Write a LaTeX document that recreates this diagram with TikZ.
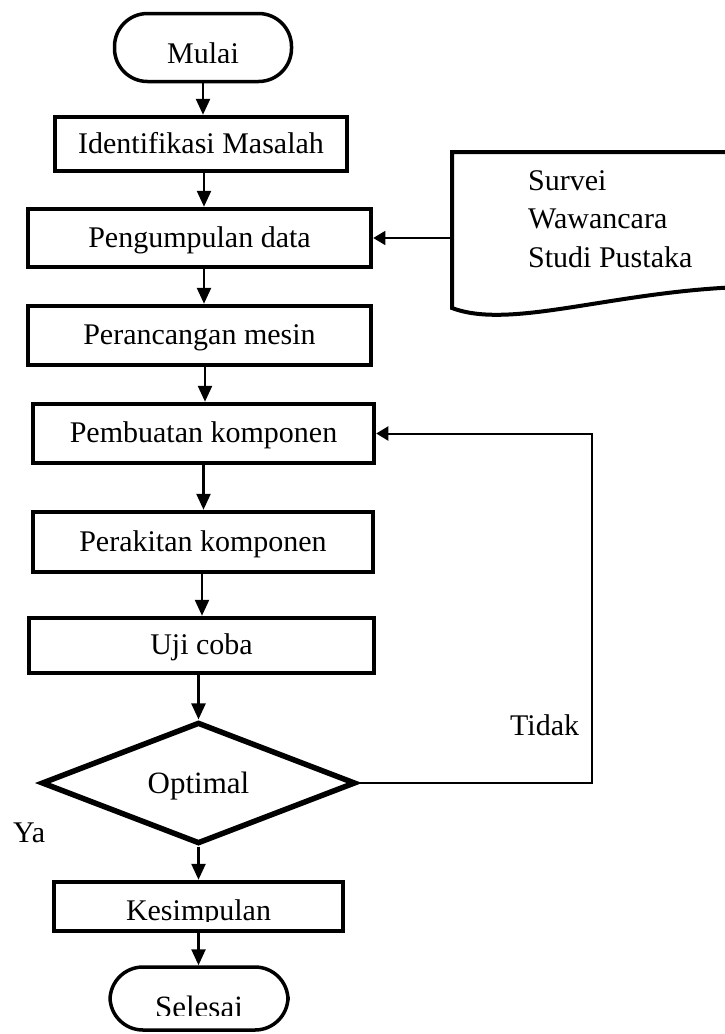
\documentclass[tikz,border=0pt]{standalone}
\usepackage{fontspec}
\setmainfont{Liberation Serif}
\usetikzlibrary{arrows.meta,shapes.geometric}
\begin{document}
\begin{tikzpicture}[x=1pt,y=-1pt,
  every node/.style={font=\fontsize{30}{36}\selectfont},
  procbox/.style={draw, line width=4.5pt, rectangle, inner sep=0pt,
    text height=18pt, text depth=0pt},
  plainbox/.style={draw, line width=4.5pt, rectangle, inner sep=0pt},
  termbox/.style={draw, line width=3.5pt, rectangle, rounded corners=33pt, inner sep=0pt},
  decision/.style={draw, line width=5.5pt, diamond, inner sep=0pt,
    text height=20pt, text depth=0pt, font=\fontsize{31}{37}\selectfont},
  lbl/.style={anchor=base, inner sep=0pt},
  flow/.style={line width=2.5pt, -{Triangle[length=16pt,width=14pt]}},
  sideflow/.style={line width=1.5pt, -{Triangle[length=12pt,width=14pt]}},
  docline/.style={line width=4pt, line join=miter},
]
\clip (0,0) rectangle (725,1034);

% start / end terminals (their labels are cut off at the bottom)
\node[termbox, minimum width=177pt, minimum height=68pt] (start) at (203,47.5) {};
\begin{scope}
  \clip (start.north west) rectangle (start.east |- 0,62.5);
  \node[lbl] (starttext) at (203,63) {Mulai};
\end{scope}

% process steps
\node[procbox, minimum width=292pt, minimum height=54pt] (ident) at (201,144) {Identifikasi Masalah};
\node[procbox, minimum width=343pt, minimum height=58pt] (peng) at (199.5,238) {Pengumpulan data};
\node[procbox, minimum width=343pt, minimum height=59pt] (ranc) at (199.5,335.5) {Perancangan mesin};
\node[procbox, minimum width=341pt, minimum height=59pt] (buat) at (203.5,433.5) {Pembuatan komponen};
\node[procbox, minimum width=340pt, minimum height=60pt] (rakit) at (203,542) {Perakitan komponen};
\node[procbox, minimum width=345pt, minimum height=55pt] (uji) at (201.5,645.5) {Uji coba};

% decision
\node[decision, minimum width=314pt, minimum height=116pt] (opt) at (198.5,783) {Optimal};

% conclusion box (label cut off at the bottom)
\node[plainbox, minimum width=289pt, minimum height=49pt] (simp) at (198.5,906.5) {};
\begin{scope}
  \clip (simp.west |- 0,880) rectangle (simp.east |- 0,921);
  \node[lbl] (simptext) at (198.5,920) {Kesimpulan};
\end{scope}

\node[termbox, minimum width=178pt, minimum height=63pt] (stop) at (199,998.5) {};
\begin{scope}
  \clip (stop.north west) rectangle (stop.east |- 0,1015);
  \node[lbl, font=\fontsize{31}{37}\selectfont] (stoptext) at (199,1017) {Selesai};
\end{scope}

% data sources document
\node[inner sep=0pt, minimum width=273pt, minimum height=156pt, anchor=north west] (doc) at (452,152) {};
\draw[docline] (740,152) -- (452,152) -- (452,308)
  .. controls (510,330) and (610,292) .. (740,287);
\node[anchor=base west, inner sep=0pt] (src1) at (528,190) {Survei};
\node[anchor=base west, inner sep=0pt] (src2) at (528,228) {Wawancara};
\node[anchor=base west, inner sep=0pt] (src3) at (528,267) {Studi Pustaka};

% branch labels
\node[anchor=base west, inner sep=0pt] (no) at (510,735) {Tidak};
\node[anchor=base west, inner sep=0pt] (yes) at (13,842) {Ya};

% main flow
\draw[flow] (start.south) -- (start.south |- ident.north);
\draw[flow] ([xshift=3pt]ident.south) -- ([xshift=3pt]ident.south |- peng.north);
\draw[flow] ([xshift=4.5pt]peng.south) -- ([xshift=4.5pt]peng.south |- ranc.north);
\draw[flow] ([xshift=5.5pt]ranc.south) -- ([xshift=5.5pt]ranc.south |- buat.north);
\draw[flow] (buat.south) -- (buat.south |- rakit.north);
\draw[flow] ([xshift=-1pt]rakit.south) -- ([xshift=-1pt]rakit.south |- uji.north);
\draw[flow] (opt.north |- uji.south) -- (opt.north);
\draw[flow] (opt.south) -- (opt.south |- simp.north);
\draw[flow] (simp.south) -- (simp.south |- stop.north);

% data input and feedback loop
\draw[sideflow] (doc.west |- peng.east) -- (peng.east);
\coordinate (loop) at (592,783);
\draw[sideflow, line width=2pt] (opt.east) -- (loop) |- (buat.east);
\end{tikzpicture}
\end{document}
